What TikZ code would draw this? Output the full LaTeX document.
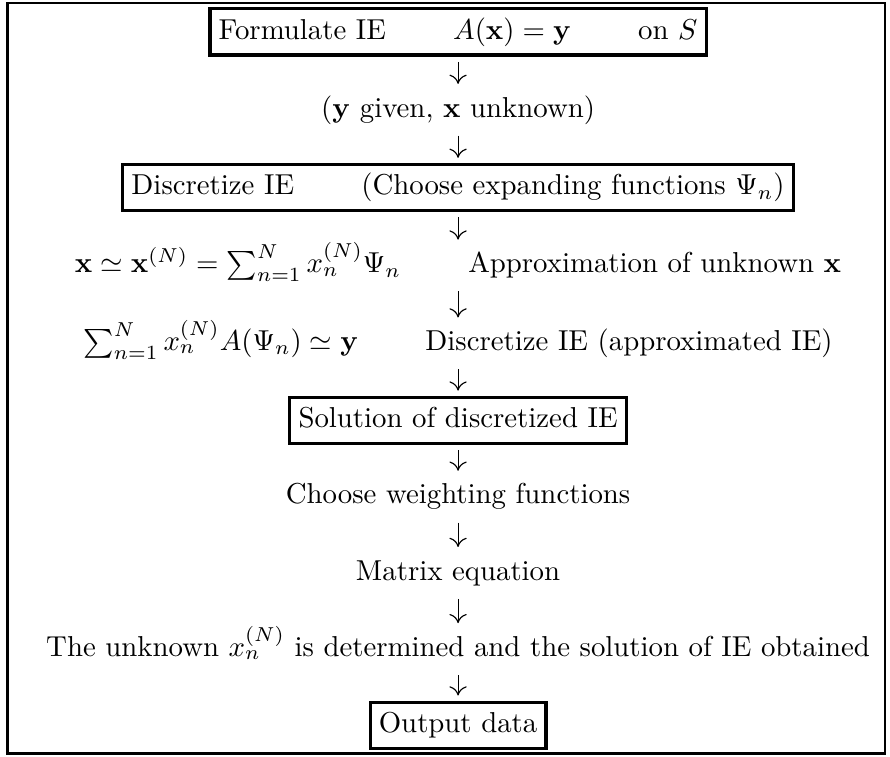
\documentclass[tikz,border=0pt]{standalone}
\usepackage{amsmath}
\usetikzlibrary{arrows.meta}

\begin{document}
\begin{tikzpicture}[>={Computer Modern Rightarrow[length=3.2pt,width=6pt]},
  iebox/.style={draw, line width=1.1pt, inner sep=3pt, text height=7.5pt, text depth=2.5pt},
  ietext/.style={inner sep=2pt, text height=7.5pt, text depth=2.5pt},
  flow/.style={->, line width=0.4pt, shorten <=1.8pt, shorten >=1.8pt}]
  \useasboundingbox (-5.589,0.39) rectangle (5.27,-8.836);
  \draw[line width=0.9pt] (-5.50,0.355) rectangle (5.21,-8.80);

  \node[iebox] (formulate) at (0,0) {Formulate IE\qquad\ $A(\mathbf{x}) = \mathbf{y}$\qquad\ on $S$};
  \node[ietext] (given) at (0,-0.95) {($\mathbf{y}$ given, $\mathbf{x}$ unknown)};
  \node[iebox] (discretize) at (0,-1.90) {Discretize IE \qquad (Choose expanding functions $\Psi_n$)};
  \node[ietext] (approx) at (0,-2.85) {$\mathbf{x} \simeq \mathbf{x}^{(N)} = \sum_{n=1}^{N} x_n^{(N)} \Psi_n$ \qquad Approximation of unknown $\mathbf{x}$};
  \node[ietext] (approxie) at (0,-3.80) {$\sum_{n=1}^{N} x_n^{(N)} A(\Psi_n) \simeq \mathbf{y}$ \qquad Discretize IE (approximated IE)};
  \node[iebox] (solution) at (0,-4.74) {Solution of discretized IE};
  \node[ietext] (weighting) at (0,-5.67) {Choose weighting functions};
  \node[ietext] (matrix) at (0,-6.60) {Matrix equation};
  \node[ietext] (unknown) at (0,-7.53) {The unknown $x_n^{(N)}$ is determined and the solution of IE obtained};
  \node[iebox] (output) at (0,-8.46) {Output data};

  \draw[flow] (formulate) -- (given);
  \draw[flow] (given) -- (discretize);
  \draw[flow] (discretize) -- (approx);
  \draw[flow] (approx) -- (approxie);
  \draw[flow] (approxie) -- (solution);
  \draw[flow] (solution) -- (weighting);
  \draw[flow] (weighting) -- (matrix);
  \draw[flow] (matrix) -- (unknown);
  \draw[flow] (unknown) -- (output);
\end{tikzpicture}
\end{document}
